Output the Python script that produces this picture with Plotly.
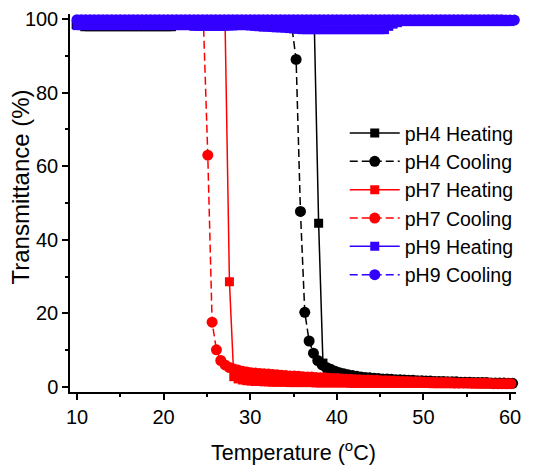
import plotly.graph_objects as go

# ---------------- data ----------------
PH4_HEAT_T = [9.9, 10.4, 10.9, 11.4, 11.9, 12.4, 12.9, 13.4, 13.9, 14.4,
              14.9, 15.4, 15.9, 16.4, 16.9, 17.4, 17.9, 18.4, 18.9, 19.4,
              19.9, 20.4, 20.9, 21.4, 21.9, 22.4, 22.9, 23.4, 23.9, 24.4,
              24.9, 25.4, 25.9, 26.4, 26.9, 27.4, 27.9, 28.4, 28.9, 29.4,
              29.9, 30.4, 30.9, 31.4, 31.9, 32.4, 32.9, 33.4, 33.9, 34.4,
              34.9, 35.4, 35.9, 36.4, 36.9, 37.4, 37.9, 38.4, 38.9, 39.4,
              39.9, 40.4, 40.9, 41.4, 41.9, 42.4, 42.9, 43.4, 43.9, 44.4,
              44.9, 45.4, 45.9, 46.4, 46.9, 47.4, 47.9, 48.4, 48.9, 49.4,
              49.9, 50.4, 50.9, 51.4, 51.9, 52.4, 52.9, 53.4, 53.9, 54.4,
              54.9, 55.4, 55.9, 56.4, 56.9, 57.4, 57.9, 58.4, 58.9, 59.4,
              59.9]
PH4_HEAT_Y = [98.5, 98.5,
              97.9, 97.9, 97.9, 97.9, 97.9, 97.9, 97.9, 97.9, 97.9, 97.9,
              97.9, 97.9, 97.9, 97.9, 97.9, 97.9, 97.9, 97.9, 97.9, 97.9, 97.9,
              98.5, 98.5, 98.5, 98.5, 98.5, 98.5, 98.5, 98.5, 98.5, 98.5, 98.5,
              98.5, 98.5, 98.5, 98.5, 98.5, 98.5, 98.5, 98.5, 98.5, 98.5, 98.5,
              98.5, 98.5, 98.5, 98.5, 98.5, 98.5, 98.5, 98.5, 98.5, 98.5,
              98.3, 44.5, 6.5,
              3.6, 3.1, 2.9, 2.7, 2.6, 2.5, 2.4, 2.3, 2.2, 2.1,
              2.0, 1.9, 1.9, 1.8, 1.7, 1.7, 1.6, 1.6, 1.5, 1.5,
              1.4, 1.4, 1.3, 1.3, 1.3, 1.2, 1.2, 1.2, 1.1, 1.1,
              1.1, 1.0, 1.0, 1.0, 1.0, 0.9, 0.9, 0.9, 0.9, 0.9,
              0.8, 0.8]

PH4_COOL_T = [10.3, 10.8, 11.3, 11.8, 12.3, 12.8, 13.3, 13.8, 14.3, 14.8,
              15.3, 15.8, 16.3, 16.8, 17.3, 17.8, 18.3, 18.8, 19.3, 19.8,
              20.3, 20.8, 21.3, 21.8, 22.3, 22.8, 23.3, 23.8, 24.3, 24.8,
              25.3, 25.8, 26.3, 26.8, 27.3, 27.8, 28.3, 28.8, 29.3, 29.8,
              30.3, 30.8, 31.3, 31.8, 32.3, 32.8, 33.3, 33.8, 34.3, 34.8,
              35.3, 35.8, 36.3, 36.8, 37.3, 37.8, 38.3, 38.8, 39.3, 39.8,
              40.3, 40.8, 41.3, 41.8, 42.3, 42.8, 43.3, 43.8, 44.3, 44.8,
              45.3, 45.8, 46.3, 46.8, 47.3, 47.8, 48.3, 48.8, 49.3, 49.8,
              50.3, 50.8, 51.3, 51.8, 52.3, 52.8, 53.3, 53.8, 54.3, 54.8,
              55.3, 55.8, 56.3, 56.8, 57.3, 57.8, 58.3, 58.8, 59.3, 59.8,
              60.3]
PH4_COOL_Y = [98.8, 98.8, 98.8, 98.8, 98.8, 98.8, 98.8, 98.8, 98.8, 98.8,
              98.8, 98.8, 98.8, 98.8, 98.8, 98.8, 98.8, 98.8, 98.8, 98.8,
              98.8, 98.8, 98.8, 98.8, 98.8, 98.8, 98.8, 98.8, 98.8, 98.8,
              98.8, 98.8, 98.8, 98.8, 98.8, 98.8, 98.8, 98.8, 98.8, 98.8,
              98.8, 98.8, 98.8, 98.8, 98.8, 98.8, 98.8, 98.8, 98.8,
              98.0, 89.0, 47.7, 20.3, 12.5, 9.2, 7.2,
              6.0, 5.3, 4.8, 4.3, 3.9, 3.6, 3.3, 3.1, 2.9, 2.7,
              2.6, 2.5, 2.4, 2.3, 2.2, 2.2, 2.1, 2.0, 2.0, 1.9,
              1.8, 1.8, 1.7, 1.7, 1.6, 1.6, 1.5, 1.5, 1.5, 1.4,
              1.4, 1.4, 1.3, 1.3, 1.3, 1.2, 1.2, 1.2, 1.2, 1.1,
              1.1, 1.1, 1.1, 1.0, 1.0]

PH7_HEAT_T = [10.1, 10.6, 11.1, 11.6, 12.1, 12.6, 13.1, 13.6, 14.1, 14.6,
              15.1, 15.6, 16.1, 16.6, 17.1, 17.6, 18.1, 18.6, 19.1, 19.6,
              20.1, 20.6, 21.1, 21.6, 22.1, 22.6, 23.1, 23.6, 24.1, 24.6,
              25.1, 25.6, 26.1, 26.6, 27.1, 27.6, 28.1, 28.6, 29.1, 29.6,
              30.1, 30.6, 31.1, 31.6, 32.1, 32.6, 33.1, 33.6, 34.1, 34.6,
              35.1, 35.6, 36.1, 36.6, 37.1, 37.6, 38.1, 38.6, 39.1, 39.6,
              40.1, 40.6, 41.1, 41.6, 42.1, 42.6, 43.1, 43.6, 44.1, 44.6,
              45.1, 45.6, 46.1, 46.6, 47.1, 47.6, 48.1, 48.6, 49.1, 49.6,
              50.1, 50.6, 51.1, 51.6, 52.1, 52.6, 53.1, 53.6, 54.1, 54.6,
              55.1, 55.6, 56.1, 56.6, 57.1, 57.6, 58.1, 58.6, 59.1, 59.6]
PH7_HEAT_Y = [98.8, 98.8, 98.8, 98.8, 98.8, 98.8, 98.8, 98.8, 98.8, 98.8,
              98.8, 98.8, 98.8, 98.8, 98.8, 98.8, 98.8, 98.8, 98.8, 98.8,
              98.8, 98.8, 98.8, 98.8, 98.8, 98.8, 98.8, 98.8, 98.8, 98.8,
              98.8, 98.8, 98.8, 98.8,
              98.5, 28.6, 2.8,
              2.2, 1.9, 1.7, 1.6, 1.5, 1.5, 1.4, 1.4, 1.3, 1.3,
              1.3, 1.3, 1.2, 1.2, 1.2, 1.2, 1.2, 1.2, 1.1, 1.1,
              1.1, 1.1, 1.1, 1.1, 1.1, 1.1, 1.0, 1.0, 1.0, 1.0,
              1.0, 1.0, 1.0, 1.0, 1.0, 1.0, 1.0, 1.0, 1.0, 1.0,
              1.0, 1.0, 1.0, 1.0, 1.0, 0.9, 0.9, 0.9, 0.9, 0.9,
              0.9, 0.9, 0.9, 0.9, 0.9, 0.9, 0.9, 0.9, 0.9, 0.9,
              0.9, 0.9, 0.9]

PH7_COOL_T = [10.1, 10.6, 11.1, 11.6, 12.1, 12.6, 13.1, 13.6, 14.1, 14.6,
              15.1, 15.6, 16.1, 16.6, 17.1, 17.6, 18.1, 18.6, 19.1, 19.6,
              20.1, 20.6, 21.1, 21.6, 22.1, 22.6, 23.1, 23.6, 24.1, 24.6,
              25.1, 25.6, 26.1, 26.6, 27.1, 27.6, 28.1, 28.6, 29.1, 29.6,
              30.1, 30.6, 31.1, 31.6, 32.1, 32.6, 33.1, 33.6, 34.1, 34.6,
              35.1, 35.6, 36.1, 36.6, 37.1, 37.6, 38.1, 38.6, 39.1, 39.6,
              40.1, 40.6, 41.1, 41.6, 42.1, 42.6, 43.1, 43.6, 44.1, 44.6,
              45.1, 45.6, 46.1, 46.6, 47.1, 47.6, 48.1, 48.6, 49.1, 49.6,
              50.1, 50.6, 51.1, 51.6, 52.1, 52.6, 53.1, 53.6, 54.1, 54.6,
              55.1, 55.6, 56.1, 56.6, 57.1, 57.6, 58.1, 58.6, 59.1, 59.6,
              60.1]
PH7_COOL_Y = [99.5, 99.5, 99.5, 99.5, 99.5, 99.5, 99.5, 99.5, 99.5, 99.5,
              99.5, 99.5, 99.5, 99.5, 99.5, 99.5, 99.5, 99.5, 99.5, 99.5,
              99.5, 99.5, 99.5, 99.5, 99.5, 99.5, 99.5, 99.5, 99.5,
              99.0, 63.0, 17.6, 10.1,
              7.2, 6.0, 5.3, 4.9, 4.6, 4.3, 4.1, 3.9, 3.8, 3.7,
              3.6, 3.5, 3.4, 3.3, 3.2, 3.1, 3.0, 3.0, 2.9, 2.8,
              2.7, 2.7, 2.6, 2.5, 2.5, 2.4, 2.3, 2.3, 2.2, 2.1,
              2.1, 2.0, 2.0, 1.9, 1.9, 1.8, 1.8, 1.7, 1.7, 1.6,
              1.6, 1.5, 1.5, 1.5, 1.4, 1.4, 1.4, 1.3, 1.3, 1.3,
              1.2, 1.2, 1.2, 1.2, 1.1, 1.1, 1.1, 1.1, 1.0, 1.0,
              1.0, 1.0, 1.0, 0.9, 0.9, 0.9, 0.9, 0.9]

PH9_HEAT_T = [10.0, 10.5, 11.0, 11.5, 12.0, 12.5, 13.0, 13.5, 14.0, 14.5,
              15.0, 15.5, 16.0, 16.5, 17.0, 17.5, 18.0, 18.5, 19.0, 19.5,
              20.0, 20.5, 21.0, 21.5, 22.0, 22.5, 23.0, 23.5, 24.0, 24.5,
              25.0, 25.5, 26.0, 26.5, 27.0, 27.5, 28.0, 28.5, 29.0, 29.5,
              30.0, 30.5, 31.0, 31.5, 32.0, 32.5, 33.0, 33.5, 34.0, 34.5,
              35.0, 35.5, 36.0, 36.5, 37.0, 37.5, 38.0, 38.5, 39.0, 39.5,
              40.0, 40.5, 41.0, 41.5, 42.0, 42.5, 43.0, 43.5, 44.0, 44.5,
              45.0, 45.5, 46.0, 46.5, 47.0, 47.5, 48.0, 48.5, 49.0, 49.5,
              50.0, 50.5, 51.0, 51.5, 52.0, 52.5, 53.0, 53.5, 54.0, 54.5,
              55.0, 55.5, 56.0, 56.5, 57.0, 57.5, 58.0, 58.5, 59.0, 59.5,
              60.0]
PH9_HEAT_Y = [98.2, 98.2, 98.2, 98.2, 98.2, 98.2, 98.2, 98.2, 98.2, 98.2,
              98.2, 98.2, 98.2, 98.2, 98.2, 98.2, 98.2, 98.2, 98.2, 98.2,
              98.2, 98.2, 98.2, 98.2, 98.2, 98.2, 98.2, 98.0, 98.0, 98.0,
              98.0, 98.0, 98.0, 98.0, 98.0, 98.1, 98.1, 98.2, 98.2, 98.2,
              98.1, 98.0, 97.9, 97.8, 97.8, 97.7, 97.6, 97.6, 97.5, 97.4,
              97.3, 97.2, 97.1, 97.1, 97.1, 97.1, 97.1, 97.1, 97.1, 97.1,
              97.1, 97.1, 97.1, 97.1, 97.1, 97.1, 97.1, 97.1, 97.1, 97.1,
              97.1, 97.1, 98.0, 98.6, 99.0, 99.3, 99.3, 99.3, 99.3, 99.3,
              99.3, 99.3, 99.3, 99.3, 99.3, 99.3, 99.3, 99.3, 99.3, 99.3,
              99.3, 99.3, 99.3, 99.3, 99.3, 99.3, 99.3, 99.3, 99.3, 99.3,
              99.3]

PH9_COOL_T = [10.0, 10.5, 11.0, 11.5, 12.0, 12.5, 13.0, 13.5, 14.0, 14.5,
              15.0, 15.5, 16.0, 16.5, 17.0, 17.5, 18.0, 18.5, 19.0, 19.5,
              20.0, 20.5, 21.0, 21.5, 22.0, 22.5, 23.0, 23.5, 24.0, 24.5,
              25.0, 25.5, 26.0, 26.5, 27.0, 27.5, 28.0, 28.5, 29.0, 29.5,
              30.0, 30.5, 31.0, 31.5, 32.0, 32.5, 33.0, 33.5, 34.0, 34.5,
              35.0, 35.5, 36.0, 36.5, 37.0, 37.5, 38.0, 38.5, 39.0, 39.5,
              40.0, 40.5, 41.0, 41.5, 42.0, 42.5, 43.0, 43.5, 44.0, 44.5,
              45.0, 45.5, 46.0, 46.5, 47.0, 47.5, 48.0, 48.5, 49.0, 49.5,
              50.0, 50.5, 51.0, 51.5, 52.0, 52.5, 53.0, 53.5, 54.0, 54.5,
              55.0, 55.5, 56.0, 56.5, 57.0, 57.5, 58.0, 58.5, 59.0, 59.5,
              60.0, 60.5, 61.0, 61.4]
PH9_COOL_Y = [99.8, 99.8, 99.8, 99.8, 99.8, 99.8, 99.8, 99.8, 99.8, 99.8,
              99.8, 99.8, 99.8, 99.8, 99.8, 99.8, 99.8, 99.8, 99.8, 99.8,
              99.8, 99.8, 99.8, 99.8, 99.8, 99.8, 99.8, 99.8, 99.8, 99.8,
              99.8, 99.8, 99.8, 99.8, 99.8, 99.8, 99.8, 99.8, 99.8, 99.8,
              99.8, 99.8, 99.8, 99.8, 99.8, 99.8, 99.8, 99.8, 99.8, 99.8,
              99.8, 99.8, 99.8, 99.8, 99.8, 99.8, 99.8, 99.8, 99.8, 99.8,
              99.8, 99.8, 99.8, 99.8, 99.8, 99.8, 99.8, 99.8, 99.8, 99.8,
              99.8, 99.8, 99.8, 99.8, 99.8, 99.8, 99.8, 99.8, 99.8, 99.8,
              99.8, 99.8, 99.8, 99.8, 99.8, 99.8, 99.8, 99.8, 99.8, 99.8,
              99.8, 99.8, 99.8, 99.8, 99.8, 99.8, 99.8, 99.8, 99.8, 99.7,
              99.7, 99.7, 99.7, 99.7]

SERIES = [
    ("pH4 Heating", PH4_HEAT_T, PH4_HEAT_Y, "#000000", "square", "solid"),
    ("pH4 Cooling", PH4_COOL_T, PH4_COOL_Y, "#000000", "circle", "dash"),
    ("pH7 Heating", PH7_HEAT_T, PH7_HEAT_Y, "#ff0000", "square", "solid"),
    ("pH7 Cooling", PH7_COOL_T, PH7_COOL_Y, "#ff0000", "circle", "dash"),
    ("pH9 Heating", PH9_HEAT_T, PH9_HEAT_Y, "#3300ff", "square", "solid"),
    ("pH9 Cooling", PH9_COOL_T, PH9_COOL_Y, "#3300ff", "circle", "dash"),
]

X_TICKS = [10, 20, 30, 40, 50, 60]
Y_TICKS = [0, 20, 40, 60, 80, 100]
X_TITLE = "Temperature (<sup>o</sup>C)"
Y_TITLE = "Transmittance (%)"

FONT = "Liberation Sans, Arial, sans-serif"

fig = go.Figure()
for name, t, y, color, symbol, dash in SERIES:
    fig.add_trace(go.Scatter(
        x=t, y=y, name=name, mode="lines+markers",
        line=dict(color=color, width=1.5,
                  dash="8px,4px" if dash == "dash" else "solid"),
        marker=dict(symbol=symbol, color=color,
                    size=9 if symbol == "square" else 11,
                    line=dict(width=0)),
        cliponaxis=False,
    ))

axis_common = dict(
    showline=True, linecolor="black", linewidth=1.5,
    ticks="outside", ticklen=6, tickwidth=1.5, tickcolor="black",
    showgrid=False, zeroline=False, mirror=False, automargin=False,
    tickfont=dict(size=20, family=FONT, color="black"),
)

fig.update_xaxes(
    range=[9.19, 60.69], tickmode="array", tickvals=X_TICKS,
    minor=dict(ticks="outside", ticklen=3, tickwidth=1.5, tickcolor="black",
               dtick=5, tick0=5, showgrid=False),
    **axis_common,
)
fig.update_yaxes(
    range=[-1.36, 101.36], tickmode="array", tickvals=Y_TICKS,
    minor=dict(ticks="outside", ticklen=3, tickwidth=1.5, tickcolor="black",
               dtick=10, tick0=10, showgrid=False),
    **axis_common,
)

fig.add_annotation(text=X_TITLE, xref="paper", yref="paper",
                   x=0.5, y=-0.156, xanchor="center", yanchor="middle",
                   showarrow=False,
                   font=dict(size=21.5, family=FONT, color="black"))
fig.add_annotation(text=Y_TITLE, xref="paper", yref="paper",
                   x=-0.112, y=0.541, xanchor="center", yanchor="middle",
                   textangle=-90, showarrow=False,
                   font=dict(size=24, family=FONT, color="black"))

fig.update_layout(
    width=536, height=465,
    margin=dict(l=70, r=20, t=14, b=73),
    plot_bgcolor="white", paper_bgcolor="white",
    font=dict(family=FONT, size=20, color="black"),
    showlegend=True,
    legend=dict(x=0.616, y=0.736, xanchor="left", yanchor="top",
                bgcolor="rgba(0,0,0,0)", borderwidth=0,
                font=dict(size=19.5, family=FONT, color="black"),
                tracegroupgap=0, itemsizing="trace", itemwidth=50),
)

fig.write_html("out.html", config={"displayModeBar": False})
